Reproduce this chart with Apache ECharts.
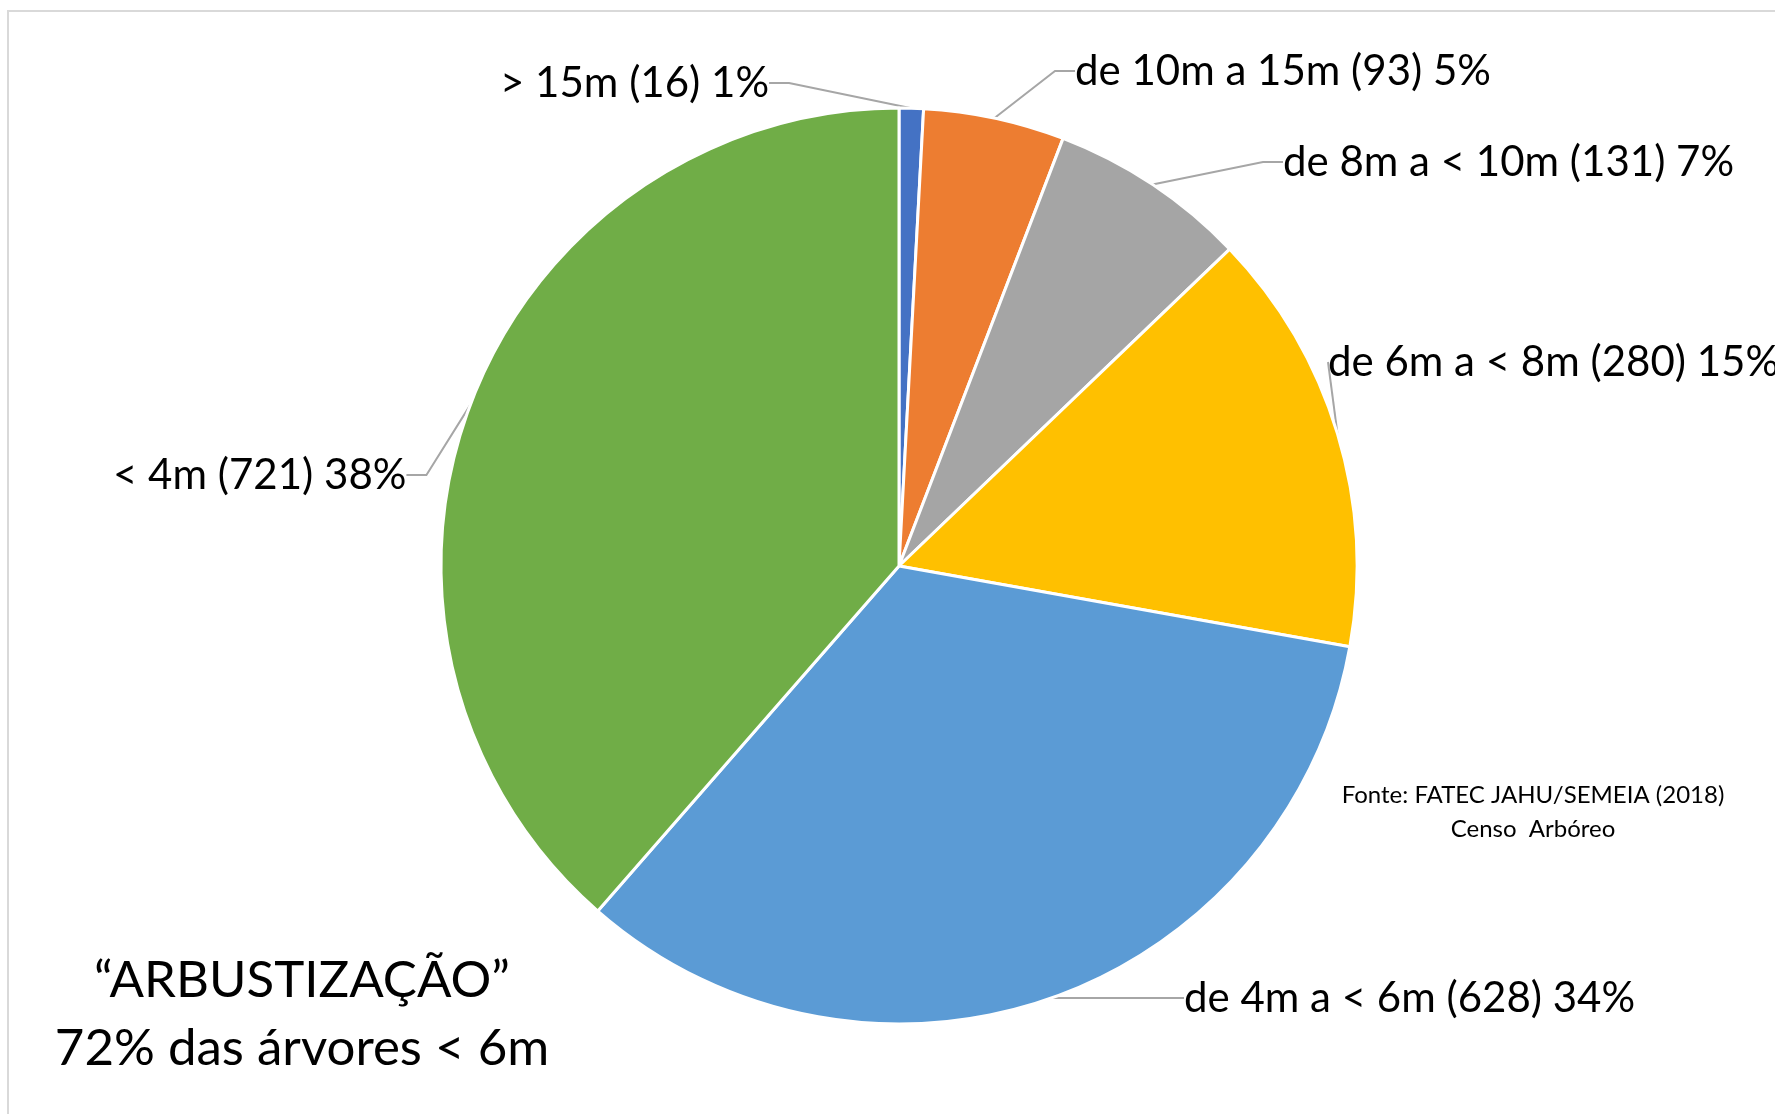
<!DOCTYPE html>
<html>
<head>
<meta charset="utf-8">
<script src="https://cdn.jsdelivr.net/npm/echarts@6/dist/echarts.min.js"></script>
<style>
  html, body { margin: 0; padding: 0; background: #fff; }
  #chart { width: 1775px; height: 1114px; }
</style>
</head>
<body>
<div id="chart"></div>
<script>
// classes de altura (sentido horário a partir das 12h)
const categories = ['> 15m', 'de 10m a 15m', 'de 8m a < 10m', 'de 6m a < 8m', 'de 4m a < 6m', '< 4m'];
const counts = [16, 93, 131, 280, 628, 721];
const colors = ['#4472C4', '#ED7D31', '#A5A5A5', '#FFC000', '#5B9BD5', '#70AD47'];

// onde fica cada rótulo (canto esquerdo, meio da linha)
const labelSpots = [
  [500, 83],
  [1075, 71],
  [1283, 162],
  [1328, 362],
  [1184, 998],
  [113, 475]
];

const font = 'Lato, "Open Sans", sans-serif';

const chart = echarts.init(document.getElementById('chart'));

const option = {
  animation: false,
  title: [
    {
      text: '“ARBUSTIZAÇÃO”\n72% das árvores < 6m',
      left: 297,
      top: 942,
      textAlign: 'center',
      textStyle: {
        fontFamily: font,
        fontSize: 51,
        fontWeight: 'normal',
        color: '#000',
        lineHeight: 68,
        align: 'center'
      }
    },
    {
      text: 'Fonte: FATEC JAHU/SEMEIA (2018)\nCenso  Arbóreo',
      left: 1528,
      top: 773,
      textAlign: 'center',
      textStyle: {
        fontFamily: font,
        fontSize: 24,
        fontWeight: 'normal',
        color: '#000',
        lineHeight: 34,
        align: 'center'
      }
    }
  ],
  graphic: [
    {
      type: 'rect',
      shape: { x: 8, y: 11, width: 1800, height: 1200 },
      style: { fill: 'none', stroke: '#d9d9d9', lineWidth: 2 },
      silent: true,
      z: -1
    }
  ],
  series: [
    {
      type: 'pie',
      center: [899, 566],
      radius: 458,
      startAngle: 90,
      clockwise: true,
      percentPrecision: 0,
      itemStyle: { borderColor: '#fff', borderWidth: 3 },
      label: {
        show: true,
        formatter: '{b} ({c}) {d}%',
        fontFamily: font,
        fontSize: 42,
        color: '#000',
        overflow: 'none'
      },
      labelLine: {
        show: true,
        length: 20,
        length2: 20,
        lineStyle: { color: '#a6a6a6', width: 2 }
      },
      labelLayout: function (params) {
        const p = labelSpots[params.dataIndex];
        return { x: p[0], y: p[1], align: 'left', verticalAlign: 'middle' };
      },
      data: categories.map((name, i) => ({
        name: name,
        value: counts[i],
        itemStyle: { color: colors[i] }
      }))
    }
  ]
};

chart.setOption(option);
</script>
</body>
</html>
